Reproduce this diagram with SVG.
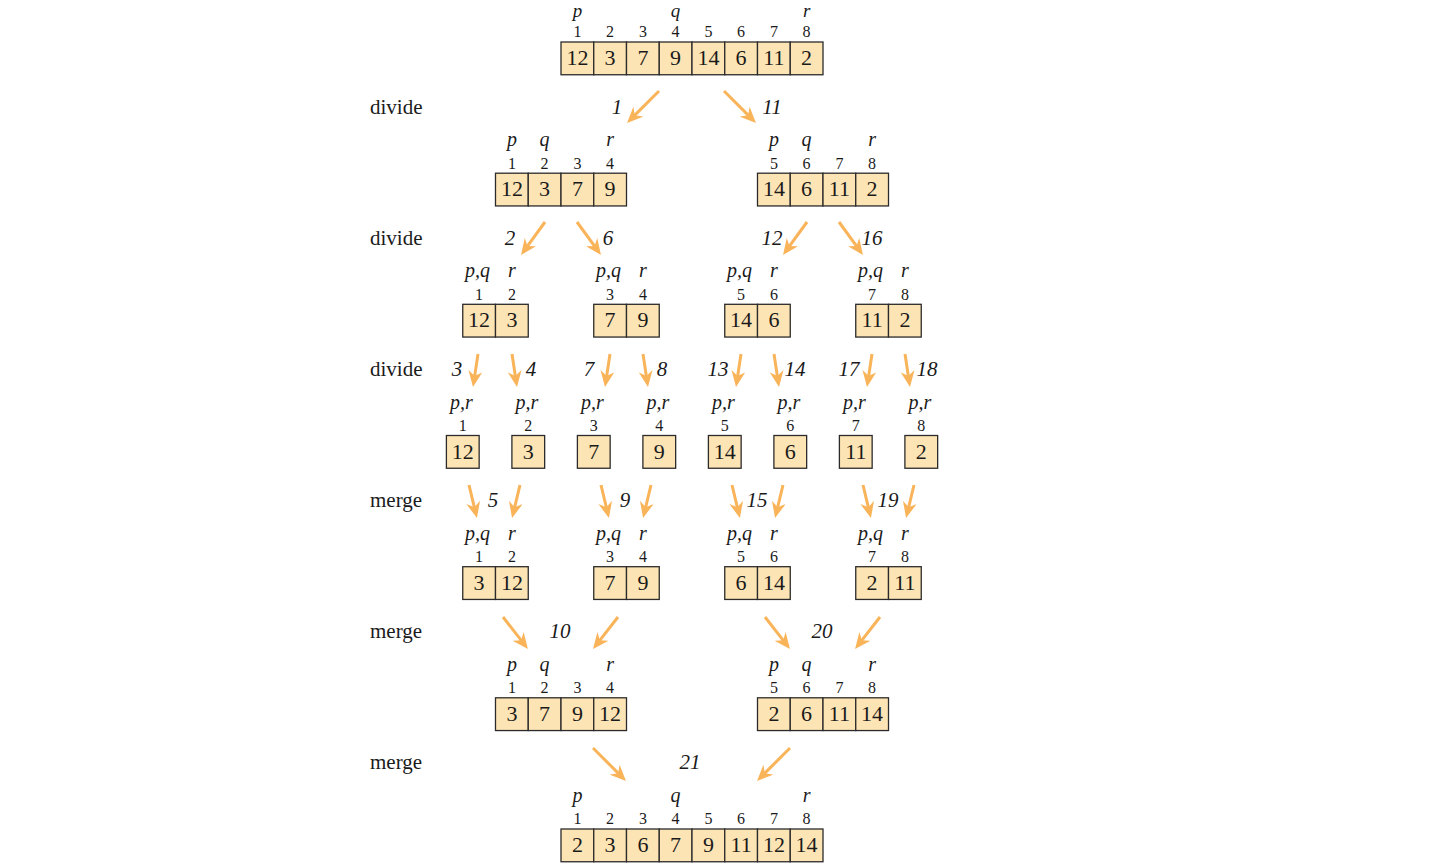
<svg xmlns="http://www.w3.org/2000/svg" width="1447" height="867" viewBox="0 0 1447 867">
<style>
.c{fill:#fde4b4;stroke:#2b2b2b;stroke-width:1.3}
.v{font-family:"Liberation Serif",serif;font-size:22px;text-anchor:middle;fill:#1a1a1a}
.i{font-family:"Liberation Serif",serif;font-size:16px;text-anchor:middle;fill:#1a1a1a}
.l{font-family:"Liberation Serif",serif;font-style:italic;font-size:20px;text-anchor:middle;fill:#1a1a1a}
.lt{font-family:"Liberation Serif",serif;font-style:italic;font-size:19px;text-anchor:middle;fill:#1a1a1a}
.s{font-family:"Liberation Serif",serif;font-style:italic;font-size:21px;text-anchor:middle;fill:#1a1a1a}
.t{font-family:"Liberation Serif",serif;font-size:21px;fill:#1a1a1a}
.a{stroke:#f9b45a;stroke-width:3;fill:none;marker-end:url(#ah)}
</style>
<defs>
<marker id="ah" markerUnits="userSpaceOnUse" viewBox="0 0 16 14" markerWidth="16" markerHeight="14" refX="6" refY="7" orient="auto">
<path d="M0,0 L16,7 L0,14 L5,7 z" fill="#f9b45a"/>
</marker>
</defs>
<rect width="1447" height="867" fill="#ffffff"/>

<g id="row-labels">
<text class="t" x="370" y="114">divide</text>
<text class="t" x="370" y="245">divide</text>
<text class="t" x="370" y="376">divide</text>
<text class="t" x="370" y="507">merge</text>
<text class="t" x="370" y="638">merge</text>
<text class="t" x="370" y="769">merge</text>
</g>

<g id="n0">
<rect class="c" x="561" y="42" width="32.75" height="32.75"/><rect class="c" x="593.75" y="42" width="32.75" height="32.75"/><rect class="c" x="626.5" y="42" width="32.75" height="32.75"/><rect class="c" x="659.25" y="42" width="32.75" height="32.75"/><rect class="c" x="692" y="42" width="32.75" height="32.75"/><rect class="c" x="724.75" y="42" width="32.75" height="32.75"/><rect class="c" x="757.5" y="42" width="32.75" height="32.75"/><rect class="c" x="790.25" y="42" width="32.75" height="32.75"/>
<text class="v" x="577.4" y="65">12</text><text class="v" x="610.1" y="65">3</text><text class="v" x="642.9" y="65">7</text><text class="v" x="675.6" y="65">9</text><text class="v" x="708.4" y="65">14</text><text class="v" x="741.1" y="65">6</text><text class="v" x="773.9" y="65">11</text><text class="v" x="806.6" y="65">2</text>
<text class="i" x="577.4" y="37.3">1</text><text class="i" x="610.1" y="37.3">2</text><text class="i" x="642.9" y="37.3">3</text><text class="i" x="675.6" y="37.3">4</text><text class="i" x="708.4" y="37.3">5</text><text class="i" x="741.1" y="37.3">6</text><text class="i" x="773.9" y="37.3">7</text><text class="i" x="806.6" y="37.3">8</text>
<text class="lt" x="577.4" y="17">p</text><text class="lt" x="675.6" y="17">q</text><text class="lt" x="806.6" y="17">r</text>
</g>

<g id="n1a">
<rect class="c" x="495.5" y="173.2" width="32.75" height="32.75"/><rect class="c" x="528.25" y="173.2" width="32.75" height="32.75"/><rect class="c" x="561" y="173.2" width="32.75" height="32.75"/><rect class="c" x="593.75" y="173.2" width="32.75" height="32.75"/>
<text class="v" x="511.9" y="196.2">12</text><text class="v" x="544.6" y="196.2">3</text><text class="v" x="577.4" y="196.2">7</text><text class="v" x="610.1" y="196.2">9</text>
<text class="i" x="511.9" y="168.5">1</text><text class="i" x="544.6" y="168.5">2</text><text class="i" x="577.4" y="168.5">3</text><text class="i" x="610.1" y="168.5">4</text>
<text class="l" x="511.9" y="146.2">p</text><text class="l" x="544.6" y="146.2">q</text><text class="l" x="610.1" y="146.2">r</text>
</g>
<g id="n1b">
<rect class="c" x="757.5" y="173.2" width="32.75" height="32.75"/><rect class="c" x="790.25" y="173.2" width="32.75" height="32.75"/><rect class="c" x="823" y="173.2" width="32.75" height="32.75"/><rect class="c" x="855.75" y="173.2" width="32.75" height="32.75"/>
<text class="v" x="773.9" y="196.2">14</text><text class="v" x="806.6" y="196.2">6</text><text class="v" x="839.4" y="196.2">11</text><text class="v" x="872.1" y="196.2">2</text>
<text class="i" x="773.9" y="168.5">5</text><text class="i" x="806.6" y="168.5">6</text><text class="i" x="839.4" y="168.5">7</text><text class="i" x="872.1" y="168.5">8</text>
<text class="l" x="773.9" y="146.2">p</text><text class="l" x="806.6" y="146.2">q</text><text class="l" x="872.1" y="146.2">r</text>
</g>

<g id="n2a">
<rect class="c" x="462.75" y="304.3" width="32.75" height="32.75"/><rect class="c" x="495.5" y="304.3" width="32.75" height="32.75"/>
<text class="v" x="479.1" y="327.3">12</text><text class="v" x="511.9" y="327.3">3</text>
<text class="i" x="479.1" y="299.6">1</text><text class="i" x="511.9" y="299.6">2</text>
<text class="l" x="477.5" y="277.3">p,q</text><text class="l" x="511.9" y="277.3">r</text>
</g>
<g id="n2b">
<rect class="c" x="593.75" y="304.3" width="32.75" height="32.75"/><rect class="c" x="626.5" y="304.3" width="32.75" height="32.75"/>
<text class="v" x="610.1" y="327.3">7</text><text class="v" x="642.9" y="327.3">9</text>
<text class="i" x="610.1" y="299.6">3</text><text class="i" x="642.9" y="299.6">4</text>
<text class="l" x="608.5" y="277.3">p,q</text><text class="l" x="642.9" y="277.3">r</text>
</g>
<g id="n2c">
<rect class="c" x="724.75" y="304.3" width="32.75" height="32.75"/><rect class="c" x="757.5" y="304.3" width="32.75" height="32.75"/>
<text class="v" x="741.1" y="327.3">14</text><text class="v" x="773.9" y="327.3">6</text>
<text class="i" x="741.1" y="299.6">5</text><text class="i" x="773.9" y="299.6">6</text>
<text class="l" x="739.5" y="277.3">p,q</text><text class="l" x="773.9" y="277.3">r</text>
</g>
<g id="n2d">
<rect class="c" x="855.75" y="304.3" width="32.75" height="32.75"/><rect class="c" x="888.5" y="304.3" width="32.75" height="32.75"/>
<text class="v" x="872.1" y="327.3">11</text><text class="v" x="904.9" y="327.3">2</text>
<text class="i" x="872.1" y="299.6">7</text><text class="i" x="904.9" y="299.6">8</text>
<text class="l" x="870.5" y="277.3">p,q</text><text class="l" x="904.9" y="277.3">r</text>
</g>

<g id="n3-1"><rect class="c" x="446.4" y="435.5" width="32.75" height="32.75"/><text class="v" x="462.8" y="458.5">12</text><text class="i" x="462.8" y="430.8">1</text><text class="l" x="461.5" y="408.5">p,r</text></g>
<g id="n3-2"><rect class="c" x="511.9" y="435.5" width="32.75" height="32.75"/><text class="v" x="528.3" y="458.5">3</text><text class="i" x="528.3" y="430.8">2</text><text class="l" x="527" y="408.5">p,r</text></g>
<g id="n3-3"><rect class="c" x="577.4" y="435.5" width="32.75" height="32.75"/><text class="v" x="593.8" y="458.5">7</text><text class="i" x="593.8" y="430.8">3</text><text class="l" x="592.5" y="408.5">p,r</text></g>
<g id="n3-4"><rect class="c" x="642.9" y="435.5" width="32.75" height="32.75"/><text class="v" x="659.3" y="458.5">9</text><text class="i" x="659.3" y="430.8">4</text><text class="l" x="658" y="408.5">p,r</text></g>
<g id="n3-5"><rect class="c" x="708.4" y="435.5" width="32.75" height="32.75"/><text class="v" x="724.8" y="458.5">14</text><text class="i" x="724.8" y="430.8">5</text><text class="l" x="723.5" y="408.5">p,r</text></g>
<g id="n3-6"><rect class="c" x="773.9" y="435.5" width="32.75" height="32.75"/><text class="v" x="790.3" y="458.5">6</text><text class="i" x="790.3" y="430.8">6</text><text class="l" x="789" y="408.5">p,r</text></g>
<g id="n3-7"><rect class="c" x="839.4" y="435.5" width="32.75" height="32.75"/><text class="v" x="855.8" y="458.5">11</text><text class="i" x="855.8" y="430.8">7</text><text class="l" x="854.5" y="408.5">p,r</text></g>
<g id="n3-8"><rect class="c" x="904.9" y="435.5" width="32.75" height="32.75"/><text class="v" x="921.3" y="458.5">2</text><text class="i" x="921.3" y="430.8">8</text><text class="l" x="920" y="408.5">p,r</text></g>

<g id="n4a">
<rect class="c" x="462.75" y="566.7" width="32.75" height="32.75"/><rect class="c" x="495.5" y="566.7" width="32.75" height="32.75"/>
<text class="v" x="479.1" y="589.7">3</text><text class="v" x="511.9" y="589.7">12</text>
<text class="i" x="479.1" y="562">1</text><text class="i" x="511.9" y="562">2</text>
<text class="l" x="477.5" y="539.7">p,q</text><text class="l" x="511.9" y="539.7">r</text>
</g>
<g id="n4b">
<rect class="c" x="593.75" y="566.7" width="32.75" height="32.75"/><rect class="c" x="626.5" y="566.7" width="32.75" height="32.75"/>
<text class="v" x="610.1" y="589.7">7</text><text class="v" x="642.9" y="589.7">9</text>
<text class="i" x="610.1" y="562">3</text><text class="i" x="642.9" y="562">4</text>
<text class="l" x="608.5" y="539.7">p,q</text><text class="l" x="642.9" y="539.7">r</text>
</g>
<g id="n4c">
<rect class="c" x="724.75" y="566.7" width="32.75" height="32.75"/><rect class="c" x="757.5" y="566.7" width="32.75" height="32.75"/>
<text class="v" x="741.1" y="589.7">6</text><text class="v" x="773.9" y="589.7">14</text>
<text class="i" x="741.1" y="562">5</text><text class="i" x="773.9" y="562">6</text>
<text class="l" x="739.5" y="539.7">p,q</text><text class="l" x="773.9" y="539.7">r</text>
</g>
<g id="n4d">
<rect class="c" x="855.75" y="566.7" width="32.75" height="32.75"/><rect class="c" x="888.5" y="566.7" width="32.75" height="32.75"/>
<text class="v" x="872.1" y="589.7">2</text><text class="v" x="904.9" y="589.7">11</text>
<text class="i" x="872.1" y="562">7</text><text class="i" x="904.9" y="562">8</text>
<text class="l" x="870.5" y="539.7">p,q</text><text class="l" x="904.9" y="539.7">r</text>
</g>

<g id="n5a">
<rect class="c" x="495.5" y="697.8" width="32.75" height="32.75"/><rect class="c" x="528.25" y="697.8" width="32.75" height="32.75"/><rect class="c" x="561" y="697.8" width="32.75" height="32.75"/><rect class="c" x="593.75" y="697.8" width="32.75" height="32.75"/>
<text class="v" x="511.9" y="720.8">3</text><text class="v" x="544.6" y="720.8">7</text><text class="v" x="577.4" y="720.8">9</text><text class="v" x="610.1" y="720.8">12</text>
<text class="i" x="511.9" y="693.1">1</text><text class="i" x="544.6" y="693.1">2</text><text class="i" x="577.4" y="693.1">3</text><text class="i" x="610.1" y="693.1">4</text>
<text class="l" x="511.9" y="670.8">p</text><text class="l" x="544.6" y="670.8">q</text><text class="l" x="610.1" y="670.8">r</text>
</g>
<g id="n5b">
<rect class="c" x="757.5" y="697.8" width="32.75" height="32.75"/><rect class="c" x="790.25" y="697.8" width="32.75" height="32.75"/><rect class="c" x="823" y="697.8" width="32.75" height="32.75"/><rect class="c" x="855.75" y="697.8" width="32.75" height="32.75"/>
<text class="v" x="773.9" y="720.8">2</text><text class="v" x="806.6" y="720.8">6</text><text class="v" x="839.4" y="720.8">11</text><text class="v" x="872.1" y="720.8">14</text>
<text class="i" x="773.9" y="693.1">5</text><text class="i" x="806.6" y="693.1">6</text><text class="i" x="839.4" y="693.1">7</text><text class="i" x="872.1" y="693.1">8</text>
<text class="l" x="773.9" y="670.8">p</text><text class="l" x="806.6" y="670.8">q</text><text class="l" x="872.1" y="670.8">r</text>
</g>

<g id="n6">
<rect class="c" x="561" y="829" width="32.75" height="32.75"/><rect class="c" x="593.75" y="829" width="32.75" height="32.75"/><rect class="c" x="626.5" y="829" width="32.75" height="32.75"/><rect class="c" x="659.25" y="829" width="32.75" height="32.75"/><rect class="c" x="692" y="829" width="32.75" height="32.75"/><rect class="c" x="724.75" y="829" width="32.75" height="32.75"/><rect class="c" x="757.5" y="829" width="32.75" height="32.75"/><rect class="c" x="790.25" y="829" width="32.75" height="32.75"/>
<text class="v" x="577.4" y="852">2</text><text class="v" x="610.1" y="852">3</text><text class="v" x="642.9" y="852">6</text><text class="v" x="675.6" y="852">7</text><text class="v" x="708.4" y="852">9</text><text class="v" x="741.1" y="852">11</text><text class="v" x="773.9" y="852">12</text><text class="v" x="806.6" y="852">14</text>
<text class="i" x="577.4" y="824.3">1</text><text class="i" x="610.1" y="824.3">2</text><text class="i" x="642.9" y="824.3">3</text><text class="i" x="675.6" y="824.3">4</text><text class="i" x="708.4" y="824.3">5</text><text class="i" x="741.1" y="824.3">6</text><text class="i" x="773.9" y="824.3">7</text><text class="i" x="806.6" y="824.3">8</text>
<text class="l" x="577.4" y="802">p</text><text class="l" x="675.6" y="802">q</text><text class="l" x="806.6" y="802">r</text>
</g>

<g id="connectors">
<path class="a" d="M659,91 L634.1,115.9"/>
<path class="a" d="M724,91 L748.9,115.9"/>
<path class="a" d="M545,222 L526.9,246.9"/>
<path class="a" d="M577,222 L595.1,246.9"/>
<path class="a" d="M807,222 L788.9,246.9"/>
<path class="a" d="M839,222 L857.1,246.9"/>
<path class="a" d="M478,354 L474.5,377.1"/>
<path class="a" d="M512,354 L515.5,377.1"/>
<path class="a" d="M610,354 L606.5,377.1"/>
<path class="a" d="M643,354 L646.5,377.1"/>
<path class="a" d="M741,354 L737.5,377.1"/>
<path class="a" d="M774,354 L777.5,377.1"/>
<path class="a" d="M872,354 L868.5,377.1"/>
<path class="a" d="M905,354 L908.5,377.1"/>
<path class="a" d="M469,485 L474.6,508.3"/>
<path class="a" d="M520,485 L514.4,508.3"/>
<path class="a" d="M601,485 L606.6,508.3"/>
<path class="a" d="M651,485 L645.4,508.3"/>
<path class="a" d="M732,485 L737.6,508.3"/>
<path class="a" d="M783,485 L777.4,508.3"/>
<path class="a" d="M863,485 L868.6,508.3"/>
<path class="a" d="M914,485 L908.4,508.3"/>
<path class="a" d="M503,617 L521.8,641.1"/>
<path class="a" d="M618,617 L599.2,641.1"/>
<path class="a" d="M765,617 L783.8,641.1"/>
<path class="a" d="M880,617 L861.2,641.1"/>
<path class="a" d="M593,748 L618.9,773.9"/>
<path class="a" d="M790,748 L764.1,773.9"/>
</g>

<g id="step-labels">
<text class="s" x="617" y="114">1</text>
<text class="s" x="772" y="114">11</text>
<text class="s" x="510" y="245">2</text>
<text class="s" x="608" y="245">6</text>
<text class="s" x="772" y="245">12</text>
<text class="s" x="872" y="245">16</text>
<text class="s" x="457" y="376">3</text>
<text class="s" x="531" y="376">4</text>
<text class="s" x="589" y="376">7</text>
<text class="s" x="662" y="376">8</text>
<text class="s" x="718" y="376">13</text>
<text class="s" x="795" y="376">14</text>
<text class="s" x="849" y="376">17</text>
<text class="s" x="927" y="376">18</text>
<text class="s" x="493" y="507">5</text>
<text class="s" x="625" y="507">9</text>
<text class="s" x="757" y="507">15</text>
<text class="s" x="888" y="507">19</text>
<text class="s" x="560" y="638">10</text>
<text class="s" x="822" y="638">20</text>
<text class="s" x="690" y="769">21</text>
</g>
</svg>
